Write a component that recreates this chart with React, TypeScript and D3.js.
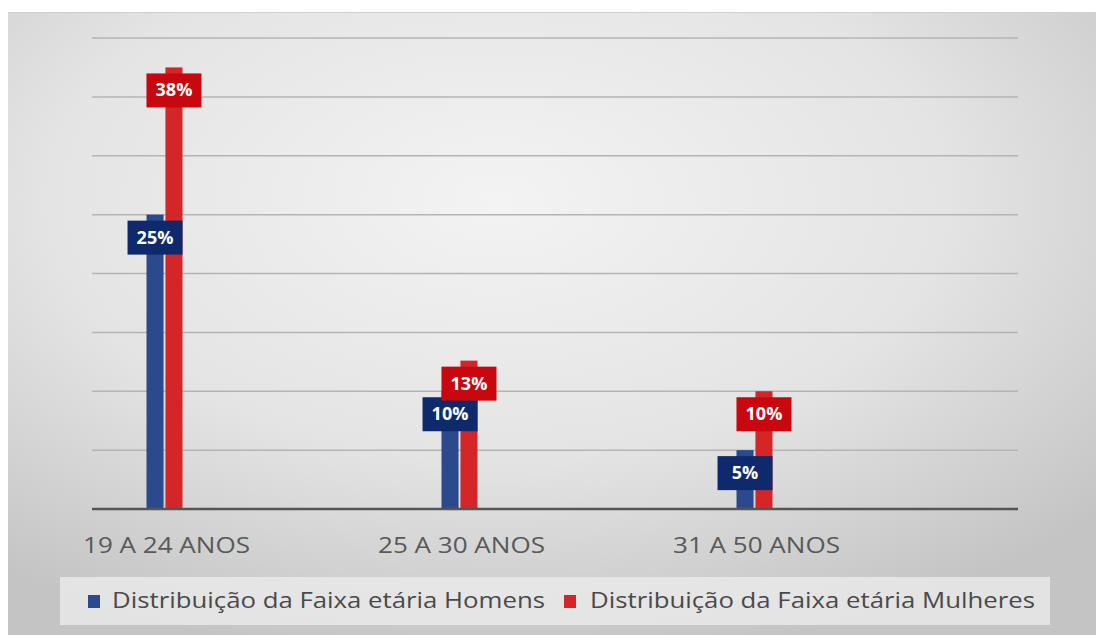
import React from 'react';
import * as d3 from 'd3';

// chart data
const categories = ['19 A 24 ANOS', '25 A 30 ANOS', '31 A 50 ANOS'];
const seriesNames = [
  'Distribuição da Faixa etária Homens',
  'Distribuição da Faixa etária Mulheres',
];
const homens = [25, 10, 5];
const mulheres = [37.5, 12.6, 10];
const labelsHomens = ['25%', '10%', '5%'];
const labelsMulheres = ['38%', '13%', '10%'];
const yTicks = [0, 5, 10, 15, 20, 25, 30, 35, 40];

// layout
const width = 1096;
const height = 635;
const plotLeft = 92;
const plotRight = 1018;
const plotTop = 38;
const plotBottom = 509;
const groupStart = 17; // first category band starts left of plot area
const groupStep = 295;

const barColors = ['#2b4a8e', '#d42528'];
const labelColors = ['#0f2a6c', '#c8080e'];
const font = '"Open Sans", "DejaVu Sans", sans-serif';

const App = () => {
  const x = d3.scaleBand<string>()
    .domain(categories)
    .range([groupStart, groupStart + groupStep * categories.length]);

  const xSub = d3.scaleBand<number>()
    .domain([0, 1])
    .range([-18, 18])
    .paddingInner(0.1);

  const y = d3.scaleLinear().domain([0, 40]).range([plotBottom, plotTop]);

  const series = [homens, mulheres];
  const labels = [labelsHomens, labelsMulheres];

  const center = (c: string) => (x(c) as number) + x.bandwidth() / 2;

  return (
    <svg width={width} height={height} style={{ position: 'absolute', left: 0, top: 0 }}>
      <defs>
        <radialGradient id="bg" cx="0.45" cy="0.3" r="0.75">
          <stop offset="0" stopColor="#f3f3f3" />
          <stop offset="0.55" stopColor="#e4e4e4" />
          <stop offset="1" stopColor="#c4c4c4" />
        </radialGradient>
      </defs>
      <rect x={0} y={0} width={width} height={height} fill="#ffffff" />
      <rect x={8} y={12} width={width - 8} height={height - 12} fill="url(#bg)" />
      <line x1={8} x2={width} y1={12.5} y2={12.5} stroke="#cfcfcf" strokeWidth={1} />

      {/* gridlines */}
      {yTicks.filter(t => t > 0).map(t => (
        <line key={t} x1={plotLeft} x2={plotRight} y1={y(t)} y2={y(t)}
          stroke="#b4b4b4" strokeWidth={1.5} />
      ))}

      {/* bars */}
      {categories.map((c, i) => (
        <g key={c}>
          {series.map((s, k) => (
            <rect key={k}
              x={center(c) + (xSub(k) as number)}
              y={y(s[i])}
              width={xSub.bandwidth()}
              height={plotBottom - y(s[i])}
              fill={barColors[k]} />
          ))}
        </g>
      ))}

      {/* baseline */}
      <line x1={plotLeft} x2={plotRight} y1={plotBottom} y2={plotBottom}
        stroke="#555555" strokeWidth={2.5} />

      {/* data labels */}
      {categories.map((c, i) => (
        <g key={c}>
          {series.map((s, k) => {
            const cx = center(c) + (xSub(k) as number) + xSub.bandwidth() / 2;
            const top = y(s[i]) + 6;
            return (
              <g key={k}>
                <rect x={cx - 27.5} y={top} width={55} height={34} fill={labelColors[k]} />
                <text x={cx} y={top + 23} textAnchor="middle" fill="#ffffff"
                  fontFamily={font} fontWeight="bold" fontSize={18}>
                  {labels[k][i]}
                </text>
              </g>
            );
          })}
        </g>
      ))}

      {/* category labels */}
      {categories.map(c => (
        <text key={c} x={center(c) + 2} y={553} textAnchor="middle" fill="#595959"
          fontFamily={font} fontSize={22} textLength={167} lengthAdjust="spacingAndGlyphs">
          {c}
        </text>
      ))}

      {/* legend */}
      <rect x={60} y={577} width={990} height={48} fill="#ebebeb" opacity={0.8} />
      <rect x={88} y={595} width={12} height={13} fill={barColors[0]} />
      <text x={112} y={608} fill="#4a4a4a" fontFamily={font} fontSize={21}
        textLength={433} lengthAdjust="spacingAndGlyphs">{seriesNames[0]}</text>
      <rect x={564} y={595} width={12} height={13} fill={barColors[1]} />
      <text x={590} y={608} fill="#4a4a4a" fontFamily={font} fontSize={21}
        textLength={445} lengthAdjust="spacingAndGlyphs">{seriesNames[1]}</text>
    </svg>
  );
};

export default App;
